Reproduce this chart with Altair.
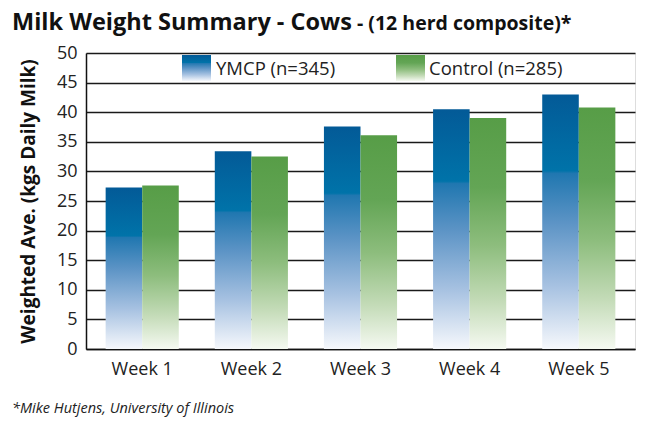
import altair as alt
import pandas as pd

weeks = ["Week 1", "Week 2", "Week 3", "Week 4", "Week 5"]
ymcp = [27.3, 33.4, 37.6, 40.5, 43.0]
control = [27.6, 32.5, 36.1, 39.0, 40.8]
series = ["YMCP", "Control"]
legend_labels = ["YMCP (n=345)", "Control (n=285)"]
title_main = "Milk Weight Summary - Cows"
title_sub = "- (12 herd composite)*"
footnote = "*Mike Hutjens, University of Illinois"
y_title = "Weighted Ave. (kgs Daily Milk)"
y_ticks = [0, 5, 10, 15, 20, 25, 30, 35, 40, 45, 50]

FONT = "Open Sans"

blue_grad = {
    "gradient": "linear", "x1": 0, "y1": 0, "x2": 0, "y2": 1,
    "stops": [
        {"offset": 0.0, "color": "#035a97"},
        {"offset": 0.30, "color": "#0073a9"},
        {"offset": 0.31, "color": "#2077b0"},
        {"offset": 0.5, "color": "#5b93c5"},
        {"offset": 0.75, "color": "#a6c1e1"},
        {"offset": 1.0, "color": "#f6f8fc"},
    ],
}
green_grad = {
    "gradient": "linear", "x1": 0, "y1": 0, "x2": 0, "y2": 1,
    "stops": [
        {"offset": 0.0, "color": "#579d47"},
        {"offset": 0.3, "color": "#63a555"},
        {"offset": 0.55, "color": "#8dbd7d"},
        {"offset": 0.8, "color": "#c5dcb9"},
        {"offset": 1.0, "color": "#f5f9f1"},
    ],
}

rows = []
for w, a, b in zip(weeks, ymcp, control):
    rows.append({"week": w, "series": series[0], "value": a})
    rows.append({"week": w, "series": series[1], "value": b})
df = pd.DataFrame(rows)

x_enc = alt.X("week:N", sort=weeks,
              scale=alt.Scale(paddingInner=0.33, paddingOuter=0.18),
              axis=alt.Axis(title=None, labelFontSize=18, labelFont=FONT, labelColor="#222",
                            labelPadding=11, ticks=False, domainColor="#111", domainWidth=1.5,
                            labelAngle=0, grid=False))
xoff = alt.XOffset("series:N", sort=series,
                   scale=alt.Scale(domain=series, paddingInner=0, paddingOuter=0))
y_enc = alt.Y("value:Q",
              scale=alt.Scale(domain=[0, 50], nice=False),
              axis=alt.Axis(values=y_ticks, title=y_title, titleFont=FONT, titleFontSize=19,
                            titleFontWeight="bold", titleColor="#111", titlePadding=18,
                            labelFontSize=18, labelFont=FONT, labelColor="#222", labelPadding=9,
                            ticks=False, grid=True, gridColor="#1a1a1a", gridWidth=1.5,
                            domainColor="#111", domainWidth=1.5))

base = alt.Chart(df)
bars_y = base.transform_filter(alt.datum.series == series[0]).mark_bar(color=blue_grad).encode(
    x=x_enc, xOffset=xoff, y=y_enc)
bars_c = base.transform_filter(alt.datum.series == series[1]).mark_bar(color=green_grad).encode(
    x=x_enc, xOffset=xoff, y=y_enc)

# legend (inside plot, top)
leg_y = alt.Chart(pd.DataFrame({"label": [legend_labels[0]]})).mark_rect(color=blue_grad).encode(
    x=alt.value(96), x2=alt.value(125), y=alt.value(2), y2=alt.value(28))
leg_c = alt.Chart(pd.DataFrame({"label": [legend_labels[1]]})).mark_rect(color=green_grad).encode(
    x=alt.value(310), x2=alt.value(339), y=alt.value(2), y2=alt.value(28))
leg_ty = alt.Chart(pd.DataFrame({"label": [legend_labels[0]]})).mark_text(
    align="left", baseline="middle", fontSize=18.5, font=FONT, color="#222").encode(
    text="label:N", x=alt.value(130), y=alt.value(16))
leg_tc = alt.Chart(pd.DataFrame({"label": [legend_labels[1]]})).mark_text(
    align="left", baseline="middle", fontSize=18.5, font=FONT, color="#222").encode(
    text="label:N", x=alt.value(343), y=alt.value(16))

# titles and footnote
t_main = alt.Chart(pd.DataFrame({"t": [title_main]})).mark_text(
    align="left", baseline="alphabetic", fontSize=23.5, fontWeight="bold", font=FONT,
    color="#111").encode(text="t:N", x=alt.value(-74), y=alt.value(-23))
t_sub = alt.Chart(pd.DataFrame({"t": [title_sub]})).mark_text(
    align="left", baseline="alphabetic", fontSize=19.5, fontWeight="bold", font=FONT,
    color="#111").encode(text="t:N", x=alt.value(271), y=alt.value(-23))
t_foot = alt.Chart(pd.DataFrame({"t": [footnote]})).mark_text(
    align="left", baseline="alphabetic", fontSize=14.5, fontStyle="italic", font=FONT,
    color="#222").encode(text="t:N", x=alt.value(-74), y=alt.value(360))

chart = alt.layer(bars_y, bars_c, leg_y, leg_c, leg_ty, leg_tc, t_main, t_sub, t_foot).properties(
    width=549, height=296,
    autosize=alt.AutoSizeParams(type="none"),
    padding={"left": 78, "top": 45, "right": 4, "bottom": 69},
).configure_view(stroke=None).configure(background="white")

chart.save("out.html", embed_options={"renderer": "svg", "actions": False})
